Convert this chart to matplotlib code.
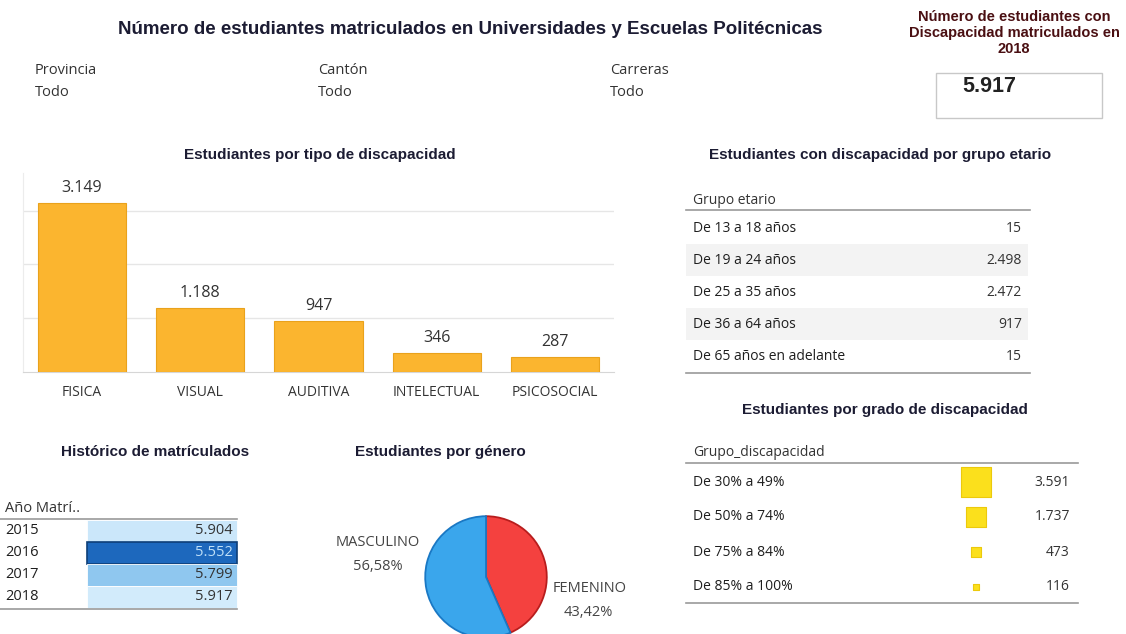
import numpy as np
import matplotlib
matplotlib.use("Agg")
import matplotlib.pyplot as plt
from matplotlib.colors import LinearSegmentedColormap, Normalize
from matplotlib.patches import Rectangle

# ---- datos ----
tipos = ["FISICA", "VISUAL", "AUDITIVA", "INTELECTUAL", "PSICOSOCIAL"]
tipos_val = [3149, 1188, 947, 346, 287]

grupos_etarios = ["De 13 a 18 años", "De 19 a 24 años", "De 25 a 35 años",
                  "De 36 a 64 años", "De 65 años en adelante"]
grupos_etarios_val = [15, 2498, 2472, 917, 15]

grados = ["De 30% a 49%", "De 50% a 74%", "De 75% a 84%", "De 85% a 100%"]
grados_val = [3591, 1737, 473, 116]

anios = ["2015", "2016", "2017", "2018"]
anios_val = [5904, 5552, 5799, 5917]

generos = ["FEMENINO", "MASCULINO"]
generos_pct = [43.42, 56.58]

total_2018 = 5917
filtros = ["Provincia", "Cantón", "Carreras"]
filtros_val = ["Todo", "Todo", "Todo"]

# ---- estilo ----
W, H = 1126, 634
TITLE_FONT = ["Liberation Sans", "DejaVu Sans"]
BODY_FONT = ["Open Sans", "DejaVu Sans"]
NAVY = "#1c1c33"
TXT = "#333333"


def fmt_miles(v):
    return f"{v:,}".replace(",", ".")


def rect_px(x, y, w, h):
    # caja en pixeles (origen arriba-izquierda) -> coordenadas de figura
    return [x / W, 1 - (y + h) / H, w / W, h / H]


fig = plt.figure(figsize=(W / 100, H / 100), dpi=100)
fig.patch.set_facecolor("white")

# capa general en pixeles para textos y tablas
ov = fig.add_axes([0, 0, 1, 1])
ov.set_xlim(0, W)
ov.set_ylim(H, 0)
ov.axis("off")
ov.set_zorder(0)


def title(x, y, s, size=11, color=NAVY):
    ov.text(x, y, s, ha="center", va="center", fontsize=size,
            fontweight="bold", color=color, family=TITLE_FONT)


def body(x, y, s, ha="left", size=10, color=TXT, **kw):
    ov.text(x, y, s, ha=ha, va="center", fontsize=size, color=color,
            family=BODY_FONT, **kw)


# ---- cabecera ----
title(470, 29, "Número de estudiantes matriculados en Universidades y Escuelas Politécnicas", size=13.5)
title(1014, 33, "Número de estudiantes con\nDiscapacidad matriculados en\n2018",
      size=10.5, color="#4a0f12")
ov.add_patch(Rectangle((936, 73), 166, 45, fill=False, edgecolor="#c8c8c8", lw=1))
ov.text(989, 86, fmt_miles(total_2018), ha="center", va="center", fontsize=15.5,
        fontweight="bold", color="#222222", family=TITLE_FONT)

for fx, name, val in zip([35, 318, 610], filtros, filtros_val):
    body(fx, 70, name, size=10.5)
    body(fx, 93, val, size=10.5)

# ---- barras por tipo ----
title(320, 155, "Estudiantes por tipo de discapacidad")
axb = fig.add_axes(rect_px(23, 173, 591, 199))
x = np.arange(len(tipos))
bars = axb.bar(x, tipos_val, width=0.745, color="#fbb52f", edgecolor="#e9a21c", lw=0.8, zorder=3)
axb.set_xlim(-0.5, len(tipos) - 0.5)
axb.set_ylim(0, 3700)
axb.set_yticks([1000, 2000, 3000])
axb.yaxis.grid(True, color="#e6e6e6", lw=1)
axb.tick_params(left=False, labelleft=False, bottom=False, pad=6)
axb.set_xticks(x)
axb.set_xticklabels(tipos, fontsize=10, color=TXT, family=BODY_FONT)
for s in ["top", "right"]:
    axb.spines[s].set_visible(False)
axb.spines["left"].set_color("#ececec")
axb.spines["bottom"].set_color("#d6d6d6")
for b, v in zip(bars, tipos_val):
    axb.annotate(fmt_miles(v), (b.get_x() + b.get_width() / 2, v), xytext=(0, 5),
                 textcoords="offset points", ha="center", va="bottom",
                 fontsize=11.5, color=TXT, family=BODY_FONT)

# ---- tabla grupo etario ----
title(880, 155, "Estudiantes con discapacidad por grupo etario")
body(693, 200, "Grupo etario")
ov.plot([686, 1030], [210, 210], color="#9a9a9a", lw=1.2)
row_h = 32
for i, (g, v) in enumerate(zip(grupos_etarios, grupos_etarios_val)):
    yc = 228 + i * row_h
    if i % 2 == 1:
        ov.add_patch(Rectangle((686, yc - row_h / 2), 342, row_h, color="#f3f3f3", lw=0))
    body(693, yc, g, color="#1e1e1e")
    body(1022, yc, fmt_miles(v), ha="right")
ov.plot([686, 1030], [373, 373], color="#9a9a9a", lw=1.2)

# ---- tabla grado de discapacidad ----
title(885, 410, "Estudiantes por grado de discapacidad")
body(693, 452, "Grupo_discapacidad")
ov.plot([686, 1078], [463, 463], color="#9a9a9a", lw=1.2)
ys_grado = [482 + i * 35 for i in range(len(grados))]
for g, v, yc in zip(grados, grados_val, ys_grado):
    body(693, yc, g, color="#1e1e1e")
    body(1070, yc, fmt_miles(v), ha="right")
ov.scatter([976] * len(grados), ys_grado, s=np.array(grados_val) * 0.13, marker="s",
           color="#fbe01c", edgecolor="#ecc90c", lw=0.8, zorder=3)
ov.plot([686, 1078], [603, 603], color="#9a9a9a", lw=1.2)

# ---- histórico ----
title(155, 452, "Histórico de matrículados")
body(5, 509, "Año Matrí..", size=10.5)
ov.plot([0, 237], [519, 519], color="#9a9a9a", lw=1.2)
cmap = LinearSegmentedColormap.from_list(
    "azules", [(0, "#d2ebfb"), (0.32, "#8fc7ef"), (1, "#1d68bd")])
norm = Normalize(min(anios_val), max(anios_val))
hr = 22
for i, (a, v) in enumerate(zip(anios, anios_val)):
    top = 520 + i * hr
    c = cmap(1 - norm(v))
    dark = v == min(anios_val)
    ov.add_patch(Rectangle((87, top), 150, hr, facecolor=c,
                           edgecolor="#0e3f78" if dark else "white", lw=1.2 if dark else 0.6))
    body(5, top + hr / 2, a, color="#1e1e1e", size=10.5)
    body(233, top + hr / 2, fmt_miles(v), ha="right", size=10.5,
         color="#bfe0f8" if dark else TXT)
ov.plot([0, 237], [609, 609], color="#9a9a9a", lw=1.2)

# ---- género ----
title(440, 452, "Estudiantes por género")
axp = fig.add_axes(rect_px(424, 515, 124, 124))
wedges, _ = axp.pie(generos_pct, colors=["#f4413f", "#3aa6ec"], startangle=90,
                    counterclock=False, radius=1)
for w, ec in zip(wedges, ["#b81d1d", "#1a78c4"]):
    w.set_edgecolor(ec)
    w.set_linewidth(1.3)
axp.set_xlim(-1.02, 1.02)
axp.set_ylim(-1.02, 1.02)
axp.set_aspect("equal")

pct = [f"{p:.2f}".replace(".", ",") + "%" for p in generos_pct]
body(378, 543, generos[1], ha="center", size=10.5, color="#444444")
body(378, 566, pct[1], ha="center", size=10.5, color="#444444")
body(590, 589, generos[0], ha="center", size=10.5, color="#444444")
body(588, 612, pct[0], ha="center", size=10.5, color="#444444")

fig.savefig("out.png", dpi=100)
